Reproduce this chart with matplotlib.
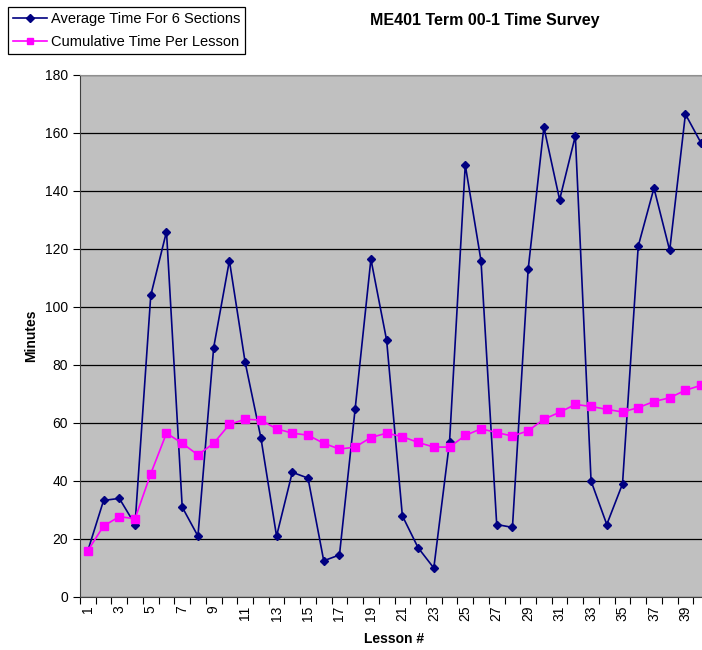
import numpy as np
import matplotlib
matplotlib.use("Agg")
import matplotlib.pyplot as plt

plt.rcParams["font.family"] = ["Liberation Sans", "DejaVu Sans"]

# data
lessons = list(range(1, 41))
avg_time = [16, 33.3, 34, 25, 104, 126, 31, 21, 86, 116,
            81, 55, 21, 43, 41, 12.5, 14.5, 65, 116.5, 88.5,
            28, 17, 10, 53.5, 149, 116, 25, 24, 113, 162,
            137, 159, 40, 25, 39, 121, 141, 119.5, 166.5, 156.5]
cum_time = [16, 24.5, 27.7, 27, 42.5, 56.5, 53, 49, 53, 59.5,
            61.3, 61, 58, 56.5, 55.8, 53, 51, 51.7, 55, 56.5,
            55.3, 53.3, 51.7, 51.7, 55.7, 58, 56.7, 55.5, 57.3, 61.3,
            63.7, 66.4, 65.7, 64.7, 63.8, 65.3, 67.4, 68.7, 71.3, 73]
y_ticks = list(range(0, 181, 20))

fig = plt.figure(figsize=(7.02, 6.5), dpi=100)
ax = fig.add_axes([80 / 702, 53 / 650, 629 / 702, 522 / 650])
ax.set_facecolor("#C0C0C0")

ax.plot(lessons, avg_time, color="#000080", lw=1.2, marker="D", ms=4.5,
        label="Average Time For 6 Sections", zorder=3)
ax.plot(lessons, cum_time, color="#FF00FF", lw=1.2, marker="s", ms=5.5,
        label="Cumulative Time Per Lesson", zorder=3)

ax.set_xlim(0.5, 40.5)
ax.set_ylim(0, 180)
ax.set_yticks(y_ticks)
ax.yaxis.grid(True, color="black", lw=0.9)
ax.set_axisbelow(True)

# category boundaries get the tick marks, every other lesson gets a label
ax.set_xticks(np.arange(0.5, 41, 1), minor=False)
ax.set_xticklabels([])
ax.set_xticks(lessons[::2], minor=True)
ax.set_xticklabels([str(v) for v in lessons[::2]], minor=True, rotation=90)
ax.tick_params(axis="x", which="major", length=5, direction="out")
ax.tick_params(axis="x", which="minor", length=0, labelsize=10, pad=6)
ax.tick_params(axis="y", length=5, direction="out", labelsize=10)

for side in ["right", "top"]:
    ax.spines[side].set_color("#909090")
ax.spines["left"].set_color("#404040")
ax.spines["bottom"].set_color("#404040")

ax.set_ylabel("Minutes", fontweight="bold", fontsize=10, labelpad=5)
ax.set_xlabel("Lesson #", fontweight="bold", fontsize=10, labelpad=8)

fig.text(485 / 702, 1 - 21 / 650, "ME401 Term 00-1 Time Survey",
         ha="center", va="center", fontweight="bold", fontsize=11.5)

leg = fig.legend(loc="upper left", bbox_to_anchor=(8 / 702, 1 - 7 / 650),
                 fontsize=10.5, frameon=True, fancybox=False, framealpha=1,
                 edgecolor="black", handlelength=2.3, borderpad=0.35,
                 labelspacing=0.6, handletextpad=0.3, borderaxespad=0,
                 markerscale=0.8)
leg.get_frame().set_linewidth(0.9)

fig.savefig("out.png", dpi=100)
